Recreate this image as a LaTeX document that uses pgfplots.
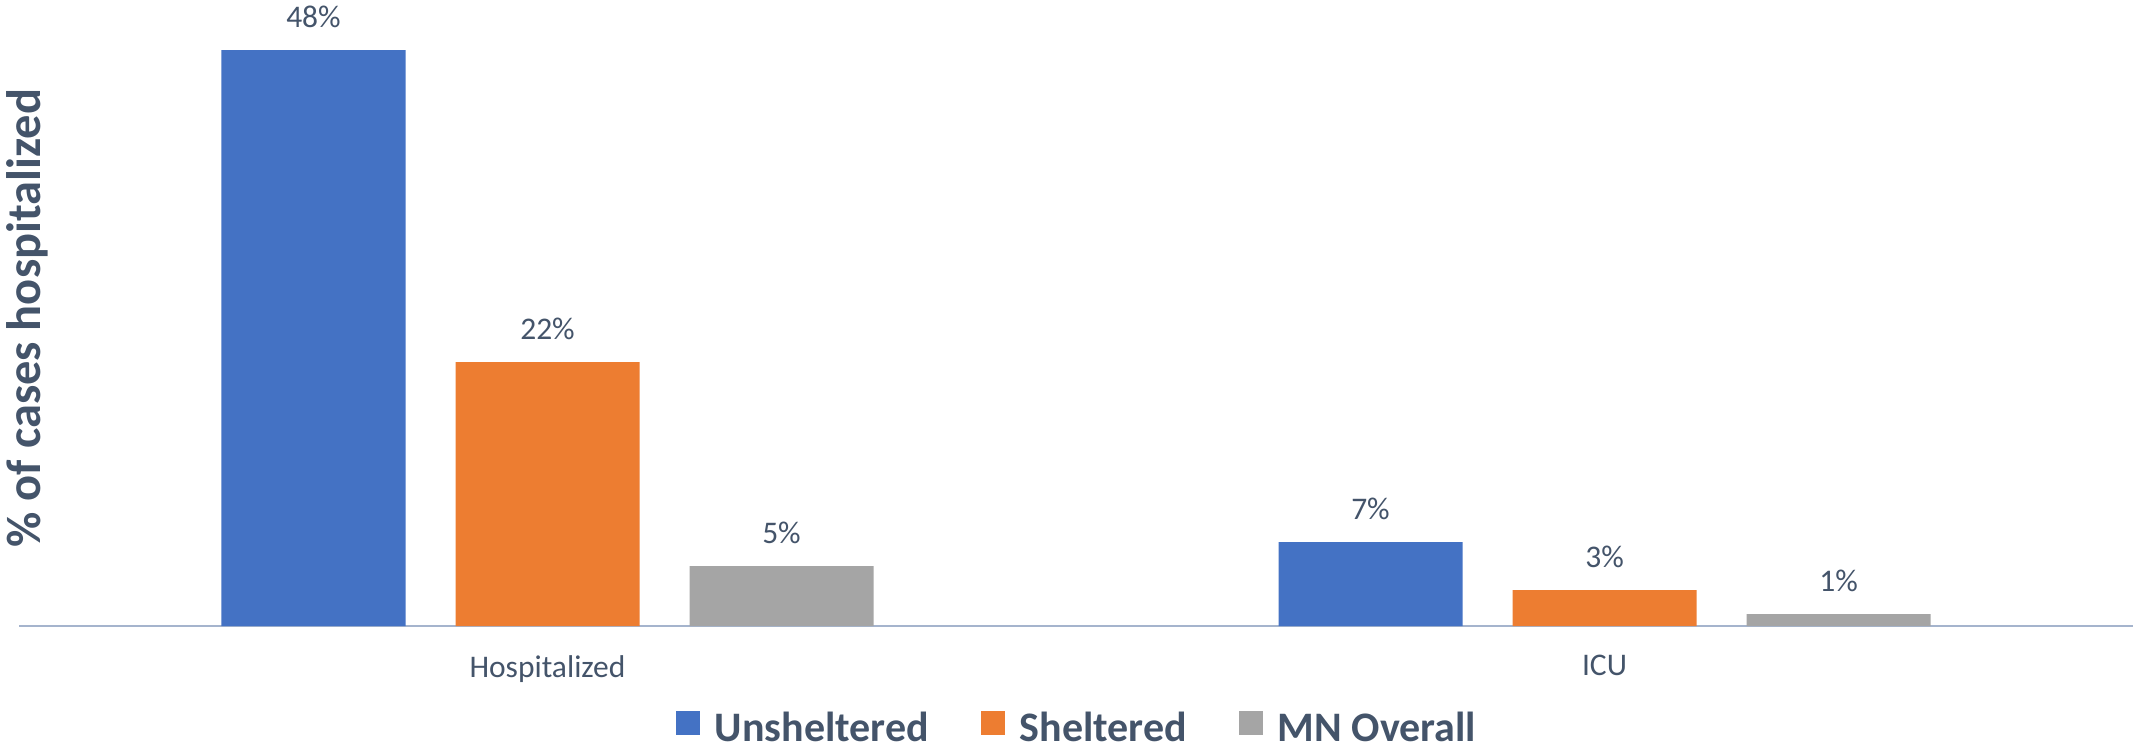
\documentclass[border=0pt]{standalone}
\usepackage{pgfplots}
\pgfplotsset{compat=1.18}
\usepackage{fontspec}
\setmainfont{Carlito}
\definecolor{cblue}{HTML}{4472C4}
\definecolor{corange}{HTML}{ED7D31}
\definecolor{cgray}{HTML}{A5A5A5}
\definecolor{ctext}{HTML}{44546A}
\definecolor{caxis}{RGB}{165,180,205}
\begin{document}
\begin{tikzpicture}
\begin{axis}[
  scale only axis,
  width=1057pt, height=300pt,
  xmin=-0.5, xmax=1.5, ymin=0, ymax=50,
  clip=false,
  ybar=25pt, bar width=92pt,
  axis x line=bottom, axis y line=left,
  x axis line style={-, draw=caxis, line width=1.2pt},
  y axis line style={draw=none},
  xtick={0,1}, xticklabels={Hospitalized, ICU},
  major tick length=0pt,
  ytick=\empty,
  xticklabel style={anchor=north, inner sep=0pt, yshift=-14.5pt, text=ctext, font=\fontsize{15.75}{18}\selectfont},
  ylabel={\% of cases hospitalized},
  ylabel style={at={(axis description cs:0,0.513)}, anchor=center, yshift=-4pt, text=ctext, font=\bfseries\fontsize{24.2}{27}\selectfont},
  /pgf/number format/assume math mode=true,
  nodes near coords={\pgfmathprintnumber{\pgfplotspointmeta}\%},
  every node near coord/.append style={anchor=south, inner sep=0pt, yshift=11pt, text=ctext, font=\fontsize{15.75}{18}\selectfont},
  legend columns=-1,
  legend style={at={(axis description cs:0.5,-0.17)}, anchor=center, draw=none, fill=none,
    text=ctext, font=\bfseries\fontsize{21}{24}\selectfont,
    nodes={inner sep=0pt},
    /tikz/every odd column/.append style={column sep=7.5pt},
    /tikz/every even column/.append style={column sep=26pt}},
  legend image code/.code={\fill[#1] (0pt,-3.5pt) rectangle (12pt,8.5pt);},
]
\addplot[draw=none, fill=cblue] coordinates {(0,48) (1,7)};
\addplot[draw=none, fill=corange] coordinates {(0,22) (1,3)};
\addplot[draw=none, fill=cgray] coordinates {(0,5) (1,1)};
\legend{Unsheltered, Sheltered, MN Overall}
\coordinate (bl) at (rel axis cs:0,0);
\coordinate (tr) at (rel axis cs:1,1);
\end{axis}
\pgfresetboundingbox
\path[use as bounding box] ([xshift=-9.5pt,yshift=-61.5pt]bl) rectangle ([yshift=13pt]tr);
\end{tikzpicture}
\end{document}
